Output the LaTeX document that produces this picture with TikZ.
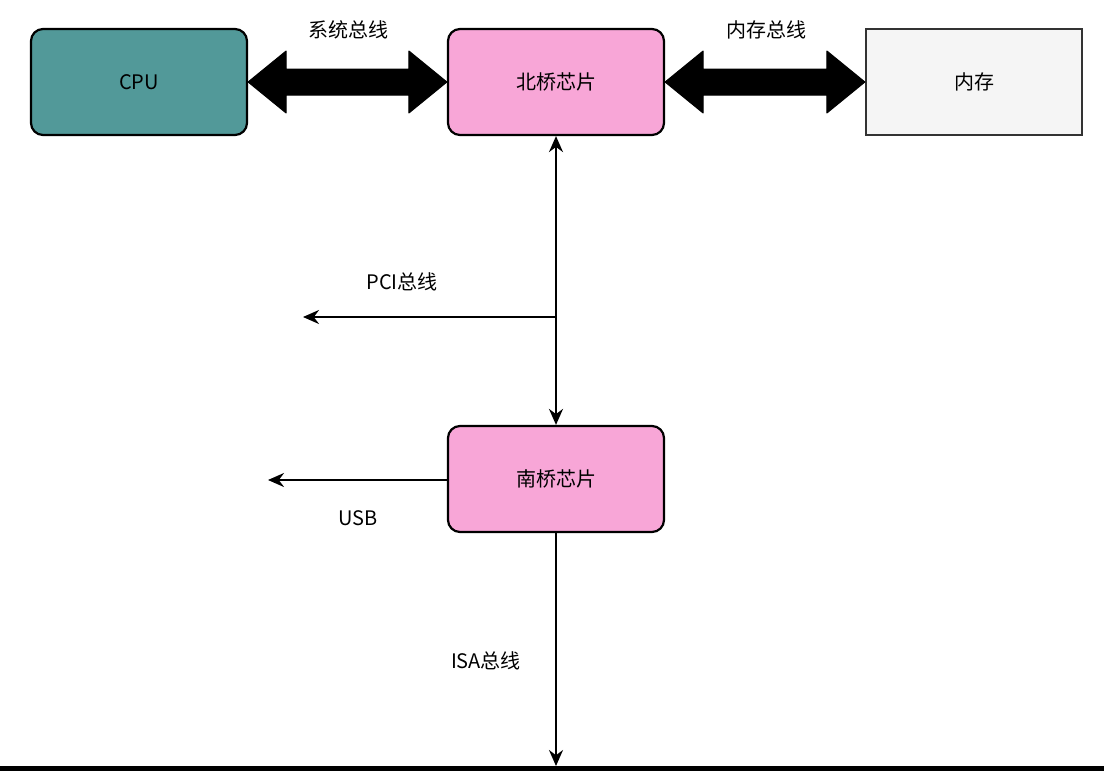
\documentclass[tikz,border=0pt]{standalone}
\usepackage{fontspec}
\setmainfont{Noto Sans CJK SC}
\usetikzlibrary{arrows.meta,calc}
\begin{document}
\begin{tikzpicture}[x=1pt,y=-1pt,
  box/.style={draw,line width=2.2pt,rounded corners=12pt,minimum width=216pt,minimum height=106pt,font=\fontsize{20}{24}\selectfont},
  lbl/.style={font=\fontsize{20}{24}\selectfont},
  thin/.style={line width=2pt,-{Stealth[length=16pt,width=14pt]}},
  both/.style={line width=2pt,{Stealth[length=16pt,width=14pt]}-{Stealth[length=16pt,width=14pt]}}]
\useasboundingbox (0,0) rectangle (1104,771);
\node[box,fill=teal!70!gray!80] (cpu) at (139,82) {CPU};
\node[box,fill=magenta!35] (nb) at (556,82) {北桥芯片};
\node[box,fill=gray!8,rounded corners=0pt,draw=black!80] (mem) at (974,82) {内存};
\node[box,fill=magenta!35] (sb) at (556,479) {南桥芯片};
% big double arrows
\foreach \a/\b in {cpu/nb,nb/mem}{
  \fill[draw,line width=1pt,line join=round] (\a.east) -- ++(38,-31) -- ++(0,18) coordinate(p) -- ($(\b.west)+(-38,-13)$) -- ++(0,-18) -- (\b.west) -- ++(-38,31) -- ++(0,-18) -- ($(\a.east)+(38,13)$) -- ++(0,18) -- cycle;
}
\node[lbl] (l1) at (348,30) {系统总线};
\node[lbl] (l2) at (766,30) {内存总线};
\draw[both] (nb.south) -- (sb.north);
\coordinate (pj) at (556,317);
\coordinate (pe) at (303,317);
\draw[thin] (pj) -- (pe);
\node[lbl] (pci) at (402,282) {PCI总线};
\coordinate (ue) at (268,480);
\draw[thin] (sb.west |- ue) -- (ue);
\node[lbl] (usb) at (358,518) {USB};
\coordinate (ie) at (556,766);
\draw[thin] (sb.south) -- (ie);
\node[lbl] (isa) at (486,661) {ISA总线};
\fill (0,766) rectangle (1104,771);
\end{tikzpicture}
\end{document}
